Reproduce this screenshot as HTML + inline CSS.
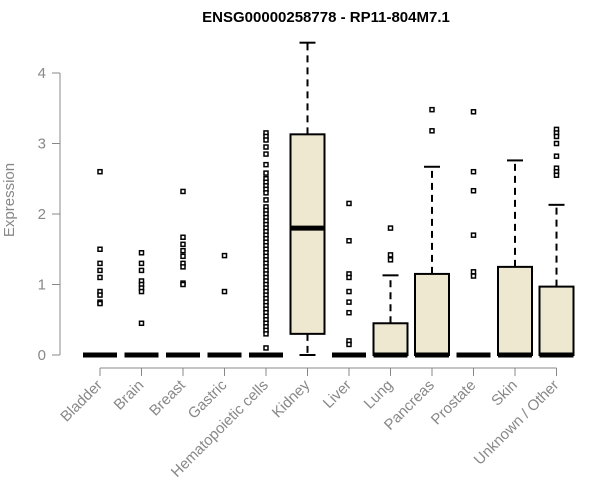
<!DOCTYPE html>
<html><head><meta charset="utf-8"><style>
html,body{margin:0;padding:0;background:#fff;}
svg{display:block;font-family:"Liberation Sans",Arial,sans-serif;}
</style></head><body>
<svg id="chart" width="600" height="500" viewBox="0 0 600 500">
<text x="326" y="22" text-anchor="middle" font-weight="bold" font-size="15" fill="#000">ENSG00000258778 - RP11-804M7.1</text>
<text transform="translate(14,200) rotate(-90)" text-anchor="middle" font-size="15" fill="#888">Expression</text>
<g id="yaxis"></g>
<g id="xaxis"></g>
<g id="plot"></g>
</svg>
<script>
const categories = ["Bladder","Brain","Breast","Gastric","Hematopoietic cells","Kidney","Liver","Lung","Pancreas","Prostate","Skin","Unknown / Other"];
const q1 = [0,0,0,0,0,0.30,0,0,0,0,0,0];
const medians = [0,0,0,0,0,1.80,0,0,0,0,0,0];
const q3 = [0,0,0,0,0,3.13,0,0.45,1.15,0,1.25,0.97];
const whiskerLow = [0,0,0,0,0,0,0,0,0,0,0,0];
const whiskerHigh = [0,0,0,0,0,4.43,0,1.13,2.67,0,2.76,2.13];
const outliers = [
 [2.6,1.5,1.3,1.2,1.1,0.9,0.85,0.75,0.73],
 [1.45,1.3,1.2,1.05,1.0,0.95,0.9,0.45],
 [2.32,1.67,1.57,1.48,1.4,1.3,1.25,1.02,1.0],
 [1.41,0.9],
 [3.15,3.1,3.05,2.95,2.85,2.7,2.58,2.5,2.45,2.4,2.35,2.3,2.2,2.1,2.05,2.0,1.95,1.9,1.85,1.8,1.75,1.7,1.65,1.6,1.55,1.5,1.45,1.4,1.35,1.3,1.25,1.2,1.15,1.1,1.05,1.0,0.95,0.9,0.85,0.8,0.75,0.7,0.65,0.6,0.55,0.5,0.45,0.4,0.35,0.3,0.1],
 [],
 [2.15,1.62,1.15,1.1,0.9,0.75,0.6,0.2,0.15],
 [1.8,1.42,1.35],
 [3.48,3.18],
 [3.45,2.6,2.33,1.7,1.18,1.12],
 [],
 [3.2,3.15,3.1,3.0,2.82,2.65,2.6,2.55]
];
const yTicks = [0,1,2,3,4];

const NS="http://www.w3.org/2000/svg";
const y = v => 355 - v*70.5;
const x = i => 100 + i*41.5;
const bw = 34;
function mk(tag, attrs, parent){const e=document.createElementNS(NS,tag);for(const k in attrs)e.setAttribute(k,attrs[k]);parent.appendChild(e);return e;}
const ya=document.getElementById('yaxis'), xa=document.getElementById('xaxis'), pl=document.getElementById('plot');
mk('line',{x1:60,x2:60,y1:y(0),y2:y(4),stroke:'#888'},ya);
yTicks.forEach(t=>{
  const l=mk('line',{x1:52,x2:60,y1:y(t),y2:y(t),stroke:'#888'},ya);
  
  
  const tx=mk('text',{x:46,y:y(t)+5,'text-anchor':'end','font-size':15,fill:'#888'},ya);
  tx.textContent=t;
  
  
});
mk('line',{x1:x(0),x2:x(categories.length-1),y1:368,y2:368,stroke:'#888'},xa);
categories.forEach((c,i)=>{
  const cx=x(i);
  const t=mk('line',{x1:cx,x2:cx,y1:368,y2:376,stroke:'#888'},xa);
  
  
  const lb=mk('text',{transform:`translate(${cx+3},${386}) rotate(-45)`,'text-anchor':'end','font-size':15,fill:'#888'},xa);
  lb.textContent=c;
  
  
  const g=mk('g',{},pl);
  
  
  if(whiskerHigh[i]>q3[i]){
    mk('line',{x1:cx,x2:cx,y1:y(q3[i]),y2:y(whiskerHigh[i]),stroke:'#000','stroke-width':2,'stroke-dasharray':'7,5'},g);
    mk('line',{x1:cx-8,x2:cx+8,y1:y(whiskerHigh[i]),y2:y(whiskerHigh[i]),stroke:'#000','stroke-width':2},g);
  }
  if(whiskerLow[i]<q1[i]){
    mk('line',{x1:cx,x2:cx,y1:y(q1[i]),y2:y(whiskerLow[i]),stroke:'#000','stroke-width':2,'stroke-dasharray':'7,5'},g);
    mk('line',{x1:cx-8,x2:cx+8,y1:y(whiskerLow[i]),y2:y(whiskerLow[i]),stroke:'#000','stroke-width':2},g);
  }
  if(q3[i]>q1[i]){
    mk('rect',{x:cx-bw/2,y:y(q3[i]),width:bw,height:y(q1[i])-y(q3[i]),fill:'#ede8cf',stroke:'#000','stroke-width':2},g);
  }
  mk('line',{x1:cx-bw/2,x2:cx+bw/2,y1:y(medians[i]),y2:y(medians[i]),stroke:'#000','stroke-width':5},g);
  outliers[i].forEach(v=>{
    const o=mk('rect',{x:cx-2,y:y(v)-2,width:4,height:4,fill:'#fff',stroke:'#000','stroke-width':1.5},g);
    
    
  });
});
</script>
</body></html>
